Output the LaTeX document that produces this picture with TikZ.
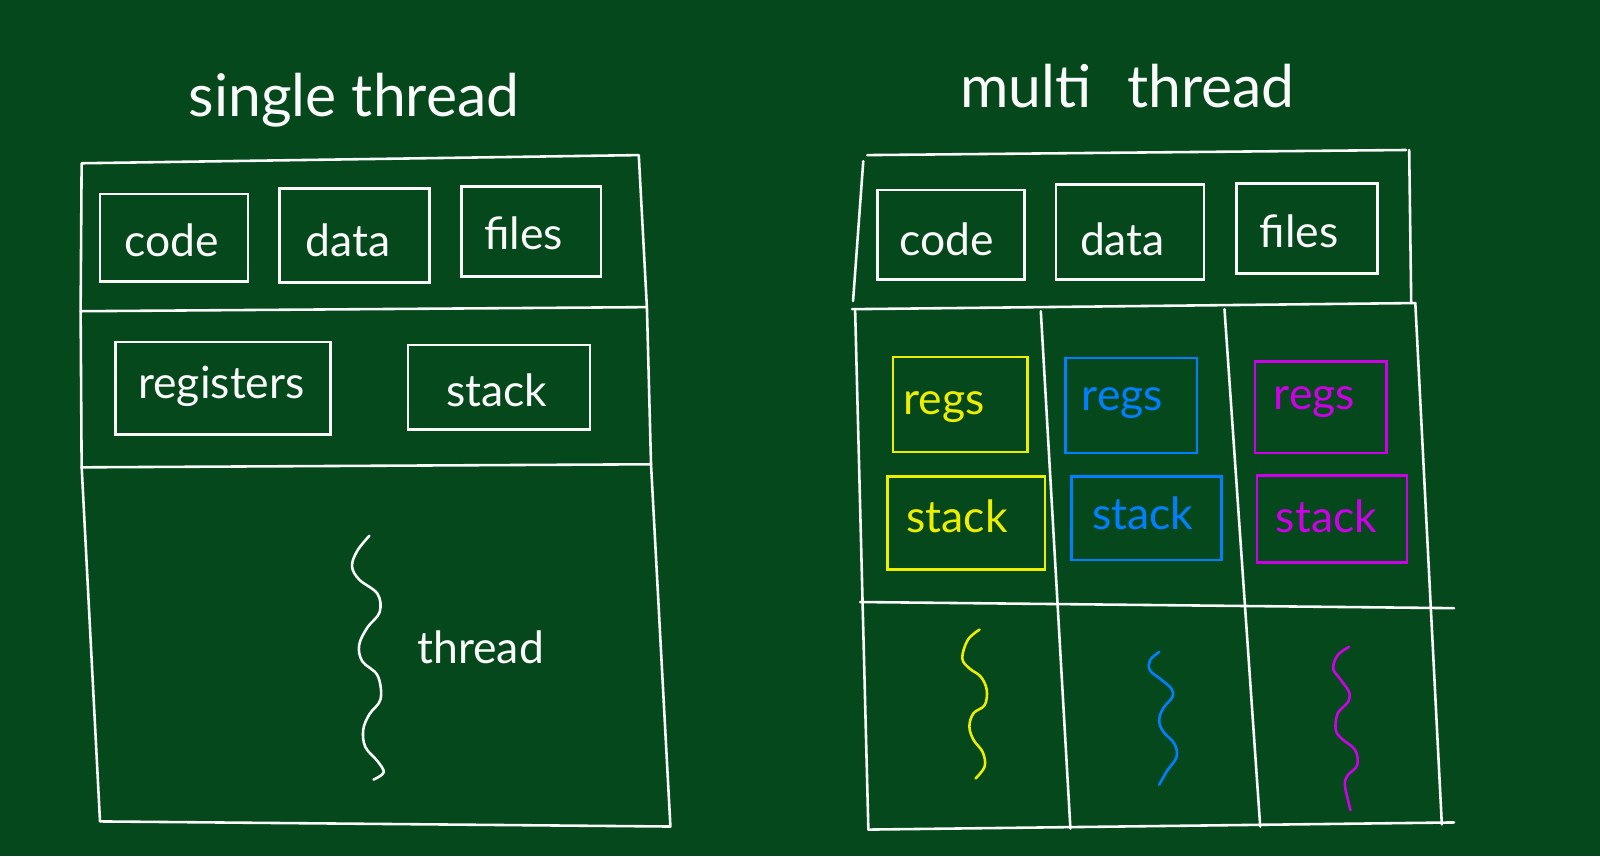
\documentclass[tikz,border=0pt]{standalone}
\usepackage{fontspec}
\setmainfont{Lato}
\usetikzlibrary{fit}
\definecolor{board}{RGB}{4,72,28}
\definecolor{chalk}{RGB}{250,250,250}
\definecolor{cyel}{RGB}{238,238,0}
\definecolor{cblu}{RGB}{0,128,255}
\definecolor{cmag}{RGB}{205,0,232}
\tikzset{
  wl/.style={draw=chalk, line width=1.8pt, line cap=round, line join=round},
  bx/.style={draw=#1, line width=1.8pt, inner sep=0pt, rectangle},
  lbl/.style={text=#1, anchor=base, inner sep=0pt, font=\fontsize{31}{36}\selectfont},
  ttl/.style={text=chalk, anchor=base, inner sep=0pt, font=\fontsize{41}{46}\selectfont},
  sq/.style={draw=#1, line width=1.8pt, line cap=round, smooth, tension=0.6}
}
\begin{document}
\begin{tikzpicture}[x=0.025cm, y=-0.025cm]
\fill[board] (0,0) rectangle (1568,839);
\useasboundingbox (0,0) rectangle (1568,839);

% titles
\node[ttl] (t1) at (347,114) {single thread};
\node[ttl] (t2) at (1105,105) {multi\hspace{0.6em}thread};

% ---------- single thread ----------
\draw[wl] (80,160) -- (626,152) -- (634,302) -- (638,455) -- (657,810) -- (98,805) -- (80,457) -- (79,305) -- cycle;
\draw[wl] (79,305) -- (634,301);
\draw[wl] (80,458) -- (638,455);

\node[bx=chalk, fit={(98,190) (243,276)}] (scode) {};
\node[bx=chalk, fit={(274,185) (421,277)}] (sdata) {};
\node[bx=chalk, fit={(452,183) (589,271)}] (sfiles) {};
\node[bx=chalk, fit={(113,335) (324,426)}] (sregs) {};
\node[bx=chalk, fit={(400,338) (578,421)}] (sstack) {};

\node[lbl=chalk] (scodet) at (168,251) {code};
\node[lbl=chalk] (sdatat) at (341,251) {data};
\node[lbl=chalk] (sfilest) at (513,245) {files};
\node[lbl=chalk] (sregst) at (217,391) {registers};
\node[lbl=chalk] (sstackt) at (487,398) {stack};
\node[lbl=chalk] (sthreadt) at (471,650) {thread};

\draw[sq=chalk] plot coordinates {(362,525) (350,540) (345,555) (352,568) (370,582) (372,600) (360,615) (352,632) (355,648) (370,662) (373,685) (362,700) (356,715) (358,732) (370,746) (376,757) (366,764)};

% ---------- multi thread ----------
\draw[wl] (850,152) -- (1378,147);
\draw[wl] (1381,147) -- (1383,297);
\draw[wl] (846,158) -- (836,295);
\draw[wl] (835,303) -- (1387,297);
\draw[wl] (838,303) -- (851,813);
\draw[wl] (1387,297) -- (1413,808);
\draw[wl] (1020,305) -- (1049,812);
\draw[wl] (1200,303) -- (1235,810);
\draw[wl] (843,590) -- (1425,596);
\draw[wl] (851,813) -- (1425,806);

\node[bx=chalk, fit={(860,186) (1004,274)}] (mcode) {};
\node[bx=chalk, fit={(1035,181) (1180,274)}] (mdata) {};
\node[bx=chalk, fit={(1212,180) (1350,268)}] (mfiles) {};
\node[lbl=chalk] (mcodet) at (928,250) {code};
\node[lbl=chalk] (mdatat) at (1100,250) {data};
\node[lbl=chalk] (mfilest) at (1273,243) {files};

\node[bx=cyel, fit={(875,350) (1007,443)}] (yregs) {};
\node[bx=cyel, fit={(870,467) (1024,558)}] (ystack) {};
\node[bx=cblu, fit={(1044,351) (1173,444)}] (bregs) {};
\node[bx=cblu, fit={(1050,467) (1197,549)}] (bstack) {};
\node[bx=cmag, fit={(1230,354) (1359,444)}] (pregs) {};
\node[bx=cmag, fit={(1232,466) (1379,551)}] (pstack) {};

\node[lbl=cyel] (yregst) at (925,406) {regs};
\node[lbl=cyel] (ystackt) at (938,522) {stack};
\node[lbl=cblu] (bregst) at (1100,402) {regs};
\node[lbl=cblu] (bstackt) at (1120,519) {stack};
\node[lbl=cmag] (pregst) at (1288,401) {regs};
\node[lbl=cmag] (pstackt) at (1300,522) {stack};

\draw[sq=cyel] plot coordinates {(960,617) (948.5,627) (943,645) (950,655) (961,663) (967,676) (965,691) (954,699) (950,712) (954,725) (963,737) (965,751) (956,763)};
\draw[sq=cblu] plot coordinates {(1136,639) (1127,647) (1127,657) (1138,666) (1148,675) (1149,683) (1140,694) (1136,706) (1140,717) (1151,729) (1153,742) (1144,755) (1136,769)};
\draw[sq=cmag] plot coordinates {(1322,634) (1311,642) (1306.5,655) (1313,665) (1322,678) (1321,688) (1311,699) (1309,715) (1315,724) (1328,735) (1330,750) (1320.5,760) (1318,769) (1321,784) (1323.5,794)};
\end{tikzpicture}
\end{document}
